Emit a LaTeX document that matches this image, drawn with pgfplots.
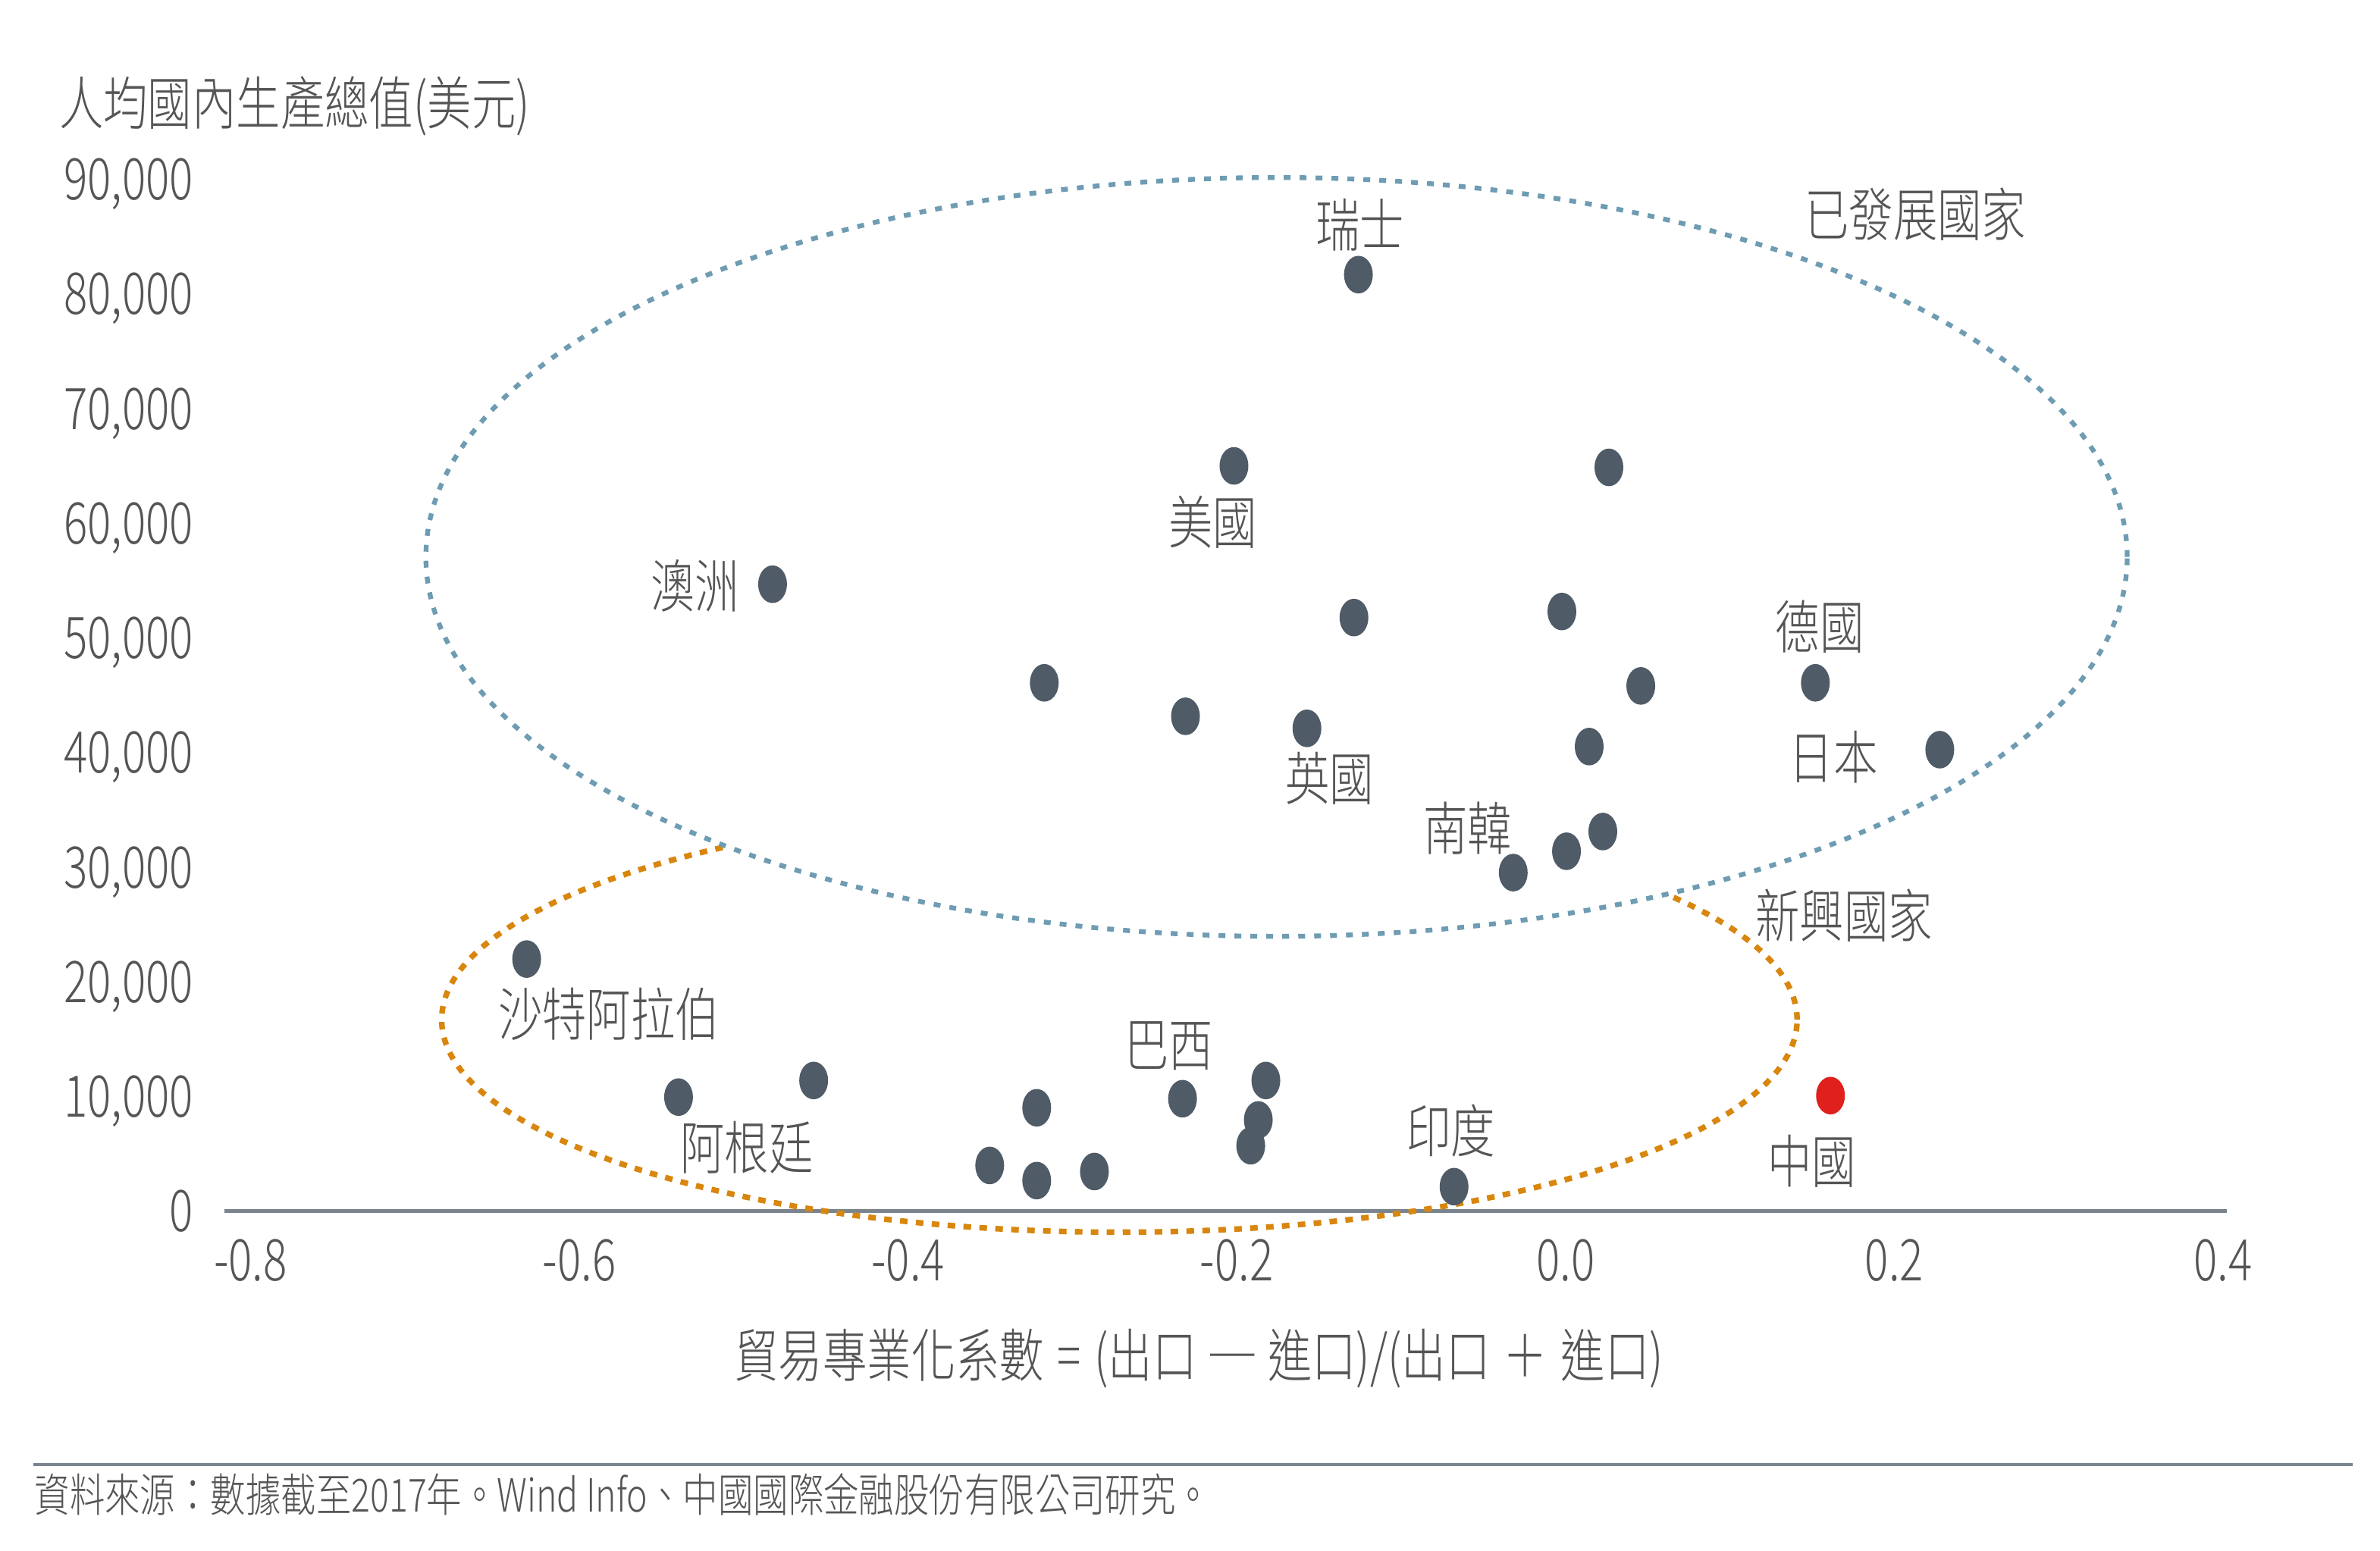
\documentclass[border=0pt]{standalone}
\usepackage{fontspec}
\setmainfont{Noto Sans CJK TC Light}
\usepackage{pgfplots}
\pgfplotsset{compat=1.18}

\definecolor{txt}{HTML}{555555}
\definecolor{dot}{HTML}{4F5B66}
\definecolor{cnred}{HTML}{E0201C}
\definecolor{devblue}{HTML}{6E9CB2}
\definecolor{emgold}{HTML}{D8860E}
\definecolor{axgray}{HTML}{7A848E}

\begin{document}
\begin{tikzpicture}[lbl/.style={font=\fontsize{8.3}{10}\selectfont, text=txt, inner sep=0pt, yscale=1.3}]
\begin{axis}[
  scale only axis, width=131.9mm, height=69.52mm,
  xmin=-0.8157, xmax=0.4022, ymin=0, ymax=92000,
  clip=false,
  axis line style={draw=none},
  major tick length=0pt,
  scaled x ticks=false, scaled y ticks=false,
  /pgf/number format/assume math mode=true,
  xtick={-0.8,-0.6,-0.4,-0.2,0,0.2,0.4},
  xticklabels={-0.8,-0.6,-0.4,-0.2,0.0,0.2,0.4},
  ytick={0,10000,20000,30000,40000,50000,60000,70000,80000,90000},
  yticklabels={0,{10,000},{20,000},{30,000},{40,000},{50,000},{60,000},{70,000},{80,000},{90,000}},
  xticklabel style={lbl, anchor=center, text depth=0pt, yshift=-2.5mm},
  yticklabel style={lbl, anchor=east, text depth=0pt, xshift=-2mm},
]
% baseline
\draw[axgray, line width=0.6pt] (axis cs:-0.8157,0) -- (axis cs:0.4022,0);

% group outlines; the blue one is filled white so the gold arc inside it disappears
\draw[emgold, line width=1.05pt, dash pattern=on 0.5mm off 0.55mm]
  (axis cs:-0.2714,16680) ellipse [x radius=0.4123, y radius=18530];
\draw[devblue, fill=white, line width=0.9pt, dash pattern=on 0.45mm off 0.6mm]
  (axis cs:-0.1758,57040) ellipse [x radius=0.5175, y radius=33090];

\addplot[only marks, color=dot, mark=*, mark size=2.5pt,
  mark options={fill=dot, draw=none, yscale=1.33}] coordinates {
  (-0.126,81660) (-0.2017,64980) (0.0264,64850) (-0.4824,54660)
  (-0.1287,51750) (-0.0022,52280) (-0.3171,46060) (0.0458,45790)
  (0.152,46060) (-0.2312,43140) (-0.1573,42090) (0.0144,40500)
  (0.2277,40230) (0.0227,33090) (0.0006,31370) (-0.0318,29510)
  (-0.632,21970) (-0.5396,9930) (-0.4574,11380) (-0.3217,9000)
  (-0.3503,3970) (-0.3217,2650) (-0.2866,3440) (-0.233,9790)
  (-0.1823,11380) (-0.1869,7940) (-0.1915,5690) (-0.0678,2120)
};
\addplot[only marks, color=cnred, mark=*, mark size=2.5pt,
  mark options={fill=cnred, draw=none, yscale=1.33}] coordinates {(0.1612,10060)};

% country and group names
\node[lbl] at (axis cs:-0.125,86000) {瑞士};
\node[lbl] at (axis cs:-0.2146,60100) {美國};
\node[lbl] at (axis cs:-0.5295,54500) {澳洲};
\node[lbl] at (axis cs:0.1548,50950) {德國};
\node[lbl] at (axis cs:-0.1435,37700) {英國};
\node[lbl] at (axis cs:0.163,39600) {日本};
\node[lbl] at (axis cs:-0.0595,33350) {南韓};
\node[lbl] at (axis cs:0.2129,86950) {已發展國家};
\node[lbl] at (axis cs:0.1695,25800) {新興國家};
\node[lbl] at (axis cs:-0.582,17200) {沙特阿拉伯};
\node[lbl] at (axis cs:-0.2414,14400) {巴西};
\node[lbl] at (axis cs:-0.498,5560) {阿根廷};
\node[lbl] at (axis cs:-0.0696,7000) {印度};
\node[lbl] at (axis cs:0.150,4370) {中國};

% axis titles
\node[lbl, anchor=west] at (axis cs:-0.917,96350) {人均國內生產總值(美元)};
\node[lbl] at (axis cs:-0.223,-12840)
  {貿易專業化系數\hspace{0.3em}=\hspace{0.3em}(出口\hspace{0.3em}─\hspace{0.3em}進口)/(出口\hspace{0.3em}＋\hspace{0.3em}進口)};

% source
\draw[axgray, line width=0.6pt] (axis cs:-0.932,-22100) -- (axis cs:0.479,-22100);
\node[lbl, font=\fontsize{6.6}{8}\selectfont, anchor=west] at (axis cs:-0.932,-24750)
  {資料來源：數據截至2017年。Wind Info、中國國際金融股份有限公司研究。};

% page frame
\path (axis cs:-0.9524,105612) rectangle (axis cs:0.4955,-29645);
\end{axis}
\end{tikzpicture}
\end{document}
